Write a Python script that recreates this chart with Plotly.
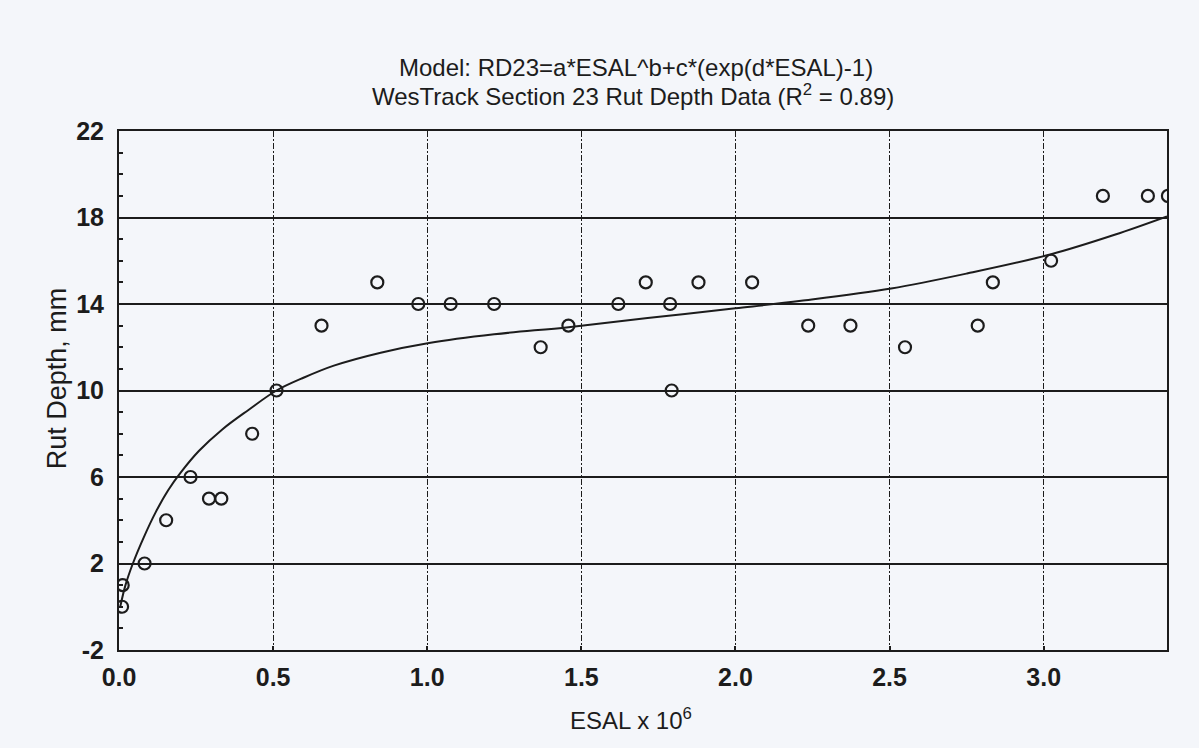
import plotly.graph_objects as go

# Observed data (ESAL in millions, rut depth in mm)
esal = [0.012, 0.010, 0.083, 0.153, 0.232, 0.292, 0.332, 0.432, 0.511, 0.657,
        0.838, 0.971, 1.076, 1.217, 1.368, 1.458, 1.620, 1.709, 1.788, 1.793,
        1.880, 2.054, 2.236, 2.373, 2.550, 2.786, 2.835, 3.024, 3.192, 3.338, 3.403]
rut = [1, 0, 2, 4, 6, 5, 5, 8, 10, 13,
       15, 14, 14, 14, 12, 13, 14, 15, 14, 10,
       15, 15, 13, 13, 12, 13, 15, 16, 19, 19, 19]

# Fitted model curve
fit_x = [0.004, 0.021, 0.045, 0.080, 0.120, 0.160, 0.200, 0.259, 0.335, 0.420,
         0.511, 0.600, 0.697, 0.849, 1.006, 1.217, 1.458, 1.715, 2.000, 2.213,
         2.505, 2.754, 3.024, 3.230, 3.400]
fit_y = [0.0, 1.0, 2.0, 3.2, 4.4, 5.4, 6.2, 7.2, 8.2, 9.1,
         10.0, 10.6, 11.15, 11.75, 12.2, 12.6, 12.93, 13.35, 13.8, 14.15,
         14.72, 15.42, 16.3, 17.2, 18.05]

x_ticks = [0.0, 0.5, 1.0, 1.5, 2.0, 2.5, 3.0]
x_tick_text = ["0.0", "0.5", "1.0", "1.5", "2.0", "2.5", "3.0"]
y_ticks = [-2, 2, 6, 10, 14, 18, 22]
y_tick_text = ["-2", "2", "6", "10", "14", "18", "22"]

title_1 = "Model: RD23=a*ESAL^b+c*(exp(d*ESAL)-1)"
title_2 = "WesTrack Section 23 Rut Depth Data (R<sup>2</sup> = 0.89)"
x_title = "ESAL x 10<sup>6</sup>"
y_title = "Rut Depth, mm"

INK = "#1c1c1c"
BG = "#f4f6fa"
FONT = "Liberation Sans, Arial, sans-serif"

fig = go.Figure()
fig.add_trace(go.Scatter(
    x=fit_x, y=fit_y, mode="lines",
    line=dict(color=INK, width=2, shape="spline", smoothing=1.0),
    showlegend=False, hoverinfo="skip"))
fig.add_trace(go.Scatter(
    x=esal, y=rut, mode="markers",
    marker=dict(symbol="circle-open", size=12, color=INK, line=dict(width=2.2, color=INK)),
    showlegend=False, cliponaxis=True))

fig.update_layout(
    width=1199, height=748,
    margin=dict(l=119, r=32, t=131, b=98),
    paper_bgcolor=BG, plot_bgcolor=BG,
    font=dict(family=FONT, color=INK),
    showlegend=False,
)

fig.update_xaxes(
    range=[0, 3.4], tickvals=x_ticks, ticktext=x_tick_text,
    tickfont=dict(family=FONT, size=25, color=INK, weight="bold"),
    showline=True, linecolor=INK, linewidth=2, mirror=True,
    showgrid=True, gridcolor=INK, gridwidth=1, griddash="6px,2px,2px,2px",
    ticks="inside", ticklen=4, tickcolor=INK, tickwidth=2,
    ticklabelstandoff=4, zeroline=False,
)
fig.update_yaxes(
    range=[-2, 22], tickvals=y_ticks, ticktext=y_tick_text,
    tickfont=dict(family=FONT, size=25, color=INK, weight="bold"),
    showline=True, linecolor=INK, linewidth=2, mirror=True,
    showgrid=True, gridcolor=INK, gridwidth=2,
    ticks="inside", ticklen=4, tickcolor=INK, tickwidth=2,
    minor=dict(dtick=1, tick0=0, ticks="inside", ticklen=4, tickcolor=INK, tickwidth=2, showgrid=False),
    ticklabelstandoff=8, zeroline=False,
)

fig.add_annotation(text=title_1, xref="paper", yref="paper", x=0.493, y=1.1233,
                   xanchor="center", yanchor="middle", showarrow=False,
                   font=dict(family=FONT, size=24, color=INK))
fig.add_annotation(text=title_2, xref="paper", yref="paper", x=0.49, y=1.0694,
                   xanchor="center", yanchor="middle", showarrow=False,
                   font=dict(family=FONT, size=24, color=INK))
fig.add_annotation(text=x_title, xref="paper", yref="paper", x=0.4885, y=-0.132,
                   xanchor="center", yanchor="middle", showarrow=False,
                   font=dict(family=FONT, size=24, color=INK))
fig.add_annotation(text=y_title, xref="paper", yref="paper", x=-0.059, y=0.524,
                   xanchor="center", yanchor="middle", showarrow=False, textangle=-90,
                   font=dict(family=FONT, size=27, color=INK))

fig.write_html("out.html")
